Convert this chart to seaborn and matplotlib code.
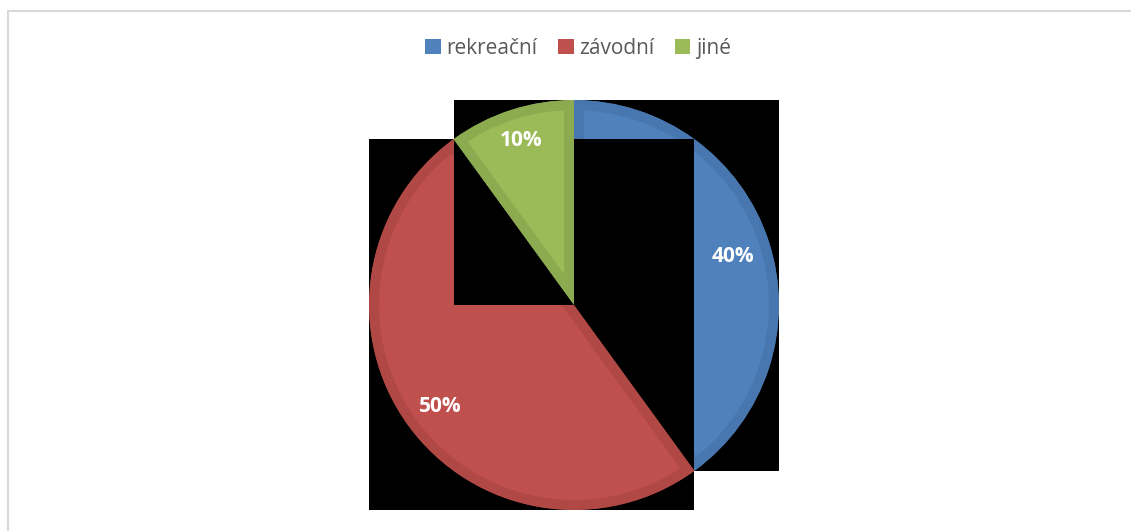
import matplotlib
matplotlib.use("Agg")
import matplotlib.pyplot as plt
import matplotlib.transforms as mtransforms
from matplotlib.patches import Patch, Rectangle
import seaborn as sns

# Data
categories = ["rekreační", "závodní", "jiné"]
shares = [40, 50, 10]

# Styling
fill_colors = ["#4f81bd", "#c0504d", "#9bbb59"]
rim_colors = ["#4876ae", "#b04845", "#8caa50"]
label_radii = [0.81, 0.815, 0.86]

sns.set_theme(style="white")
plt.rcParams["font.family"] = ["Open Sans", "DejaVu Sans"]

W, H, DPI = 1131, 531, 100
fig = plt.figure(figsize=(W / DPI, H / DPI), dpi=DPI)
fig.patch.set_facecolor("white")

# Pie axes: centre (574, 305) px, radius 205 px
cx, cy, r = 574, 305, 205
ax = fig.add_axes([(cx - r) / W, (H - cy - r) / H, 2 * r / W, 2 * r / H])

wedges, _, autotexts = ax.pie(
    shares,
    colors=fill_colors,
    startangle=90,
    counterclock=False,
    radius=1,
    autopct=lambda p: f"{p:.0f}%",
    pctdistance=0.82,
    textprops=dict(color="white", fontsize=15, fontweight="bold"),
    wedgeprops=dict(linewidth=0),
)
ax.set_xlim(-1, 1)
ax.set_ylim(-1, 1)
ax.set_aspect("equal")
ax.axis("off")

rim_px = 10
for i, (w, rim) in enumerate(zip(wedges, rim_colors)):
    # black box behind each slice, from the slice's own extents
    ext = w.get_path().get_extents(w.get_patch_transform())
    box = Rectangle((ext.x0, ext.y0), ext.width, ext.height,
                    facecolor="black", edgecolor="none", zorder=2 * i + 1,
                    clip_on=False)
    ax.add_patch(box)
    w.set_zorder(2 * i + 2)
    # darker rim drawn only on the inside of the slice
    w.set_edgecolor(rim)
    w.set_linewidth(2 * rim_px * 72 / DPI)
    w.set_clip_on(True)
    w.set_clip_path(w)

label_tf = mtransforms.offset_copy(ax.transData, fig=fig, x=1.5, y=-3, units="dots")
for t, rr in zip(autotexts, label_radii):
    x, y = t.get_position()
    s = rr / 0.82
    t.set_position((x * s, y * s))
    t.set_transform(label_tf)
    t.set_zorder(20)

# Legend
handles = [Patch(facecolor=c, edgecolor="none") for c in fill_colors]
fig.legend(handles, categories, loc="center", bbox_to_anchor=(578 / W, 1 - 48 / H),
           ncol=3, frameon=False, fontsize=15, labelcolor="#595959",
           handlelength=0.75, handleheight=0.75, handletextpad=0.25,
           columnspacing=1.0, borderaxespad=0, borderpad=0)

# Chart frame (top and left edges visible)
frame = Rectangle((7.5 / W, -0.1), 1.5, (H - 10.5) / H + 0.1,
                  transform=fig.transFigure, facecolor="none",
                  edgecolor="#d9d9d9", linewidth=1.5, zorder=0)
fig.patches.append(frame)

fig.savefig("out.png", dpi=DPI, facecolor="white")
